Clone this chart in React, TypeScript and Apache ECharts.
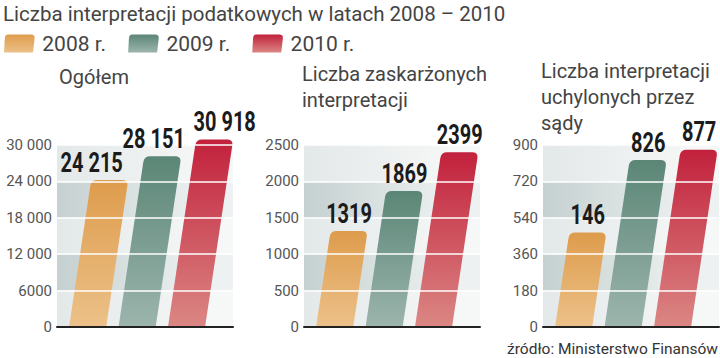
import React, { useEffect, useRef } from "react";
import * as echarts from "echarts";

// ---- data ----
const years = ["2008 r.", "2009 r.", "2010 r."];
const totalValues = [24215, 28151, 30918];
const appealedValues = [1319, 1869, 2399];
// printed values of the third panel
const overturnedLabels = [146, 826, 877];
// bar levels as drawn against the third panel's axis (first bar drawn at ~467 in the source)
const overturnedBarLevels = [467, 826, 877];

const panelTitles = ["Ogółem", "Liczba zaskarżonych\ninterpretacji", "Liczba interpretacji\nuchylonych przez\nsądy"];
const axisMax = [30000, 2500, 900];
const axisStep = [6000, 500, 180];
const mainTitle = "Liczba interpretacji podatkowych w latach 2008 – 2010";
const sourceText = "źródło: Ministerstwo Finansów";

// ---- styles ----
const yearTop = ["#de9c4c", "#5b8676", "#c2213c"];
const yearBottom = ["#ecc189", "#9cb5ad", "#db8784"];
const gridLefts = [57, 304, 543];
const titleLefts = [59, 302, 541];
const titleTops = [64, 61, 58];
const labelShift = [[-18, -9, 10], [0, 0, 0], [0, 0, 0]];
const SLANT = 0.15;
const BAR_UNITS = 0.75;

const grad = (i: number) =>
  new echarts.graphic.LinearGradient(0, 0, 0, 1, [
    { offset: 0, color: yearTop[i] },
    { offset: 1, color: yearBottom[i] },
  ]);

const bandGrad = (a: string, b: string) =>
  new echarts.graphic.LinearGradient(0, 0, 1, 0, [
    { offset: 0, color: a },
    { offset: 0.85, color: b },
    { offset: 1, color: b },
  ]);

const fmtThousands = (v: number) => {
  const s = String(v);
  return v >= 10000 ? s.slice(0, s.length - 3) + " " + s.slice(-3) : s;
};

const fontUI = "Roboto, 'Liberation Sans', sans-serif";

// geometry of a slanted bar with rounded top corners
const barGeom = (api: any) => {
  const x = api.value(0);
  const v = api.value(1);
  const base = api.coord([x, 0]);
  const top = api.coord([x, v]);
  const w = api.size([BAR_UNITS, 0])[0];
  const h = base[1] - top[1];
  const s = h * SLANT;
  const bl = base[0] - w / 2;
  return { bl, by: base[1], ty: top[1], tl: bl + s, tr: bl + w + s, w, h, s };
};

export default function App() {
  const ref = useRef<HTMLDivElement>(null);
  useEffect(() => {
    if (!ref.current) return;
    const chart = echarts.init(ref.current, undefined, { renderer: "svg" });
    const panelBars = [totalValues, appealedValues, overturnedBarLevels];
    const panelLabels = [
      totalValues.map(fmtThousands),
      appealedValues.map(String),
      overturnedLabels.map(String),
    ];

    const grids: any[] = [];
    const xAxes: any[] = [];
    const yAxes: any[] = [];
    const series: any[] = [];
    for (let p = 0; p < 3; p++) {
      grids.push({ left: gridLefts[p], top: 145, width: 176, height: 182, containLabel: false });
      xAxes.push({
        type: "value",
        gridIndex: p,
        min: -0.62,
        max: 2.94,
        axisLine: { show: true, onZero: false, lineStyle: { color: "#222", width: 2 } },
        axisTick: { show: false },
        axisLabel: { show: false },
        splitLine: { show: false },
        z: 6,
      });
      // background bands
      yAxes.push({
        type: "value",
        gridIndex: p,
        position: "left",
        min: 0,
        max: axisMax[p],
        interval: axisStep[p],
        axisLine: { show: false },
        axisTick: { show: false },
        axisLabel: { show: false },
        splitLine: { show: false },
        splitArea: {
          show: true,
          areaStyle: {
            color: [bandGrad("#e3e8e8", "#f6f7f7"), bandGrad("#c5d0d0", "#eef1f1")],
          },
        },
        z: 0,
      });
      // labels + white grid lines drawn above the bars
      yAxes.push({
        type: "value",
        gridIndex: p,
        position: "left",
        min: 0,
        max: axisMax[p],
        interval: axisStep[p],
        axisLine: { show: false },
        axisTick: { show: false },
        axisLabel: {
          show: true,
          margin: 5,
          fontSize: 15,
          color: "#555",
          fontFamily: fontUI,
          formatter: (v: number) => fmtThousands(v),
        },
        splitLine: { show: true, lineStyle: { color: "#ffffff", width: 1.5 } },
        splitArea: { show: false },
        z: 5,
      });
      for (let y = 0; y < 3; y++) {
        const label = panelLabels[p][y];
        const shift = labelShift[p][y];
        // bar
        series.push({
          type: "custom",
          name: years[y],
          xAxisIndex: p,
          yAxisIndex: 2 * p + 1,
          itemStyle: { color: grad(y) },
          data: [[y, panelBars[p][y]]],
          z: 2,
          renderItem: (params: any, api: any) => {
            const g = barGeom(api);
            const r = 6;
            const len = Math.hypot(g.s, g.h);
            const dx = g.s / len;
            const dy = g.h / len;
            const d =
              `M${g.bl},${g.by} L${g.bl + g.w},${g.by} L${g.tr - dx * r},${g.ty + dy * r} ` +
              `Q${g.tr},${g.ty} ${g.tr - r},${g.ty} L${g.tl + r},${g.ty} ` +
              `Q${g.tl},${g.ty} ${g.tl - dx * r},${g.ty + dy * r} Z`;
            return { type: "path", shape: { pathData: d }, style: { fill: api.visual("color") } };
          },
        });
        // value label, above the white grid lines
        series.push({
          type: "custom",
          name: years[y] + " label",
          xAxisIndex: p,
          yAxisIndex: 2 * p + 1,
          data: [[y, panelBars[p][y]]],
          z: 10,
          renderItem: (params: any, api: any) => {
            const g = barGeom(api);
            return {
              type: "text",
              x: (g.tl + g.tr) / 2 + shift,
              y: g.ty - 4,
              scaleX: 0.74,
              style: {
                text: label,
                x: 0,
                y: 0,
                align: "center",
                verticalAlign: "bottom",
                fontSize: 27,
                fontWeight: "bold",
                fontFamily: "Roboto, 'Liberation Sans', sans-serif",
                fill: "#1b1b1b",
              },
            };
          },
        });
      }
    }

    const titles: any[] = [
      {
        text: mainTitle,
        left: 3,
        top: 3,
        padding: 0,
        textStyle: { fontSize: 20.5, fontWeight: "normal", color: "#444", fontFamily: fontUI },
      },
      ...panelTitles.map((t, p) => ({
        text: t,
        left: titleLefts[p],
        top: titleTops[p],
        padding: 0,
        textStyle: { fontSize: 20, lineHeight: 26, fontWeight: "normal", color: "#444", fontFamily: fontUI },
      })),
      {
        text: sourceText,
        right: 2,
        bottom: 1,
        padding: 0,
        textStyle: { fontSize: 15.5, fontWeight: "normal", color: "#333", fontFamily: fontUI },
      },
    ];

    chart.setOption({
      animation: false,
      backgroundColor: "#ffffff",
      title: titles,
      legend: {
        data: years,
        left: 4,
        top: 33,
        padding: 0,
        itemGap: 22,
        itemWidth: 32,
        itemHeight: 18,
        icon: "path://M1,18 L30,18 L31.6,4 Q32,0 28,0 L5,0 Q2,0 1.8,4 Z",
        textStyle: { fontSize: 21, color: "#444", fontFamily: fontUI, padding: [0, 0, 0, 2] },
      },
      grid: grids,
      xAxis: xAxes,
      yAxis: yAxes,
      series,
    });
    return () => chart.dispose();
  }, []);
  return <div ref={ref} style={{ position: "fixed", left: 0, top: 0, width: 720, height: 358 }} />;
}
